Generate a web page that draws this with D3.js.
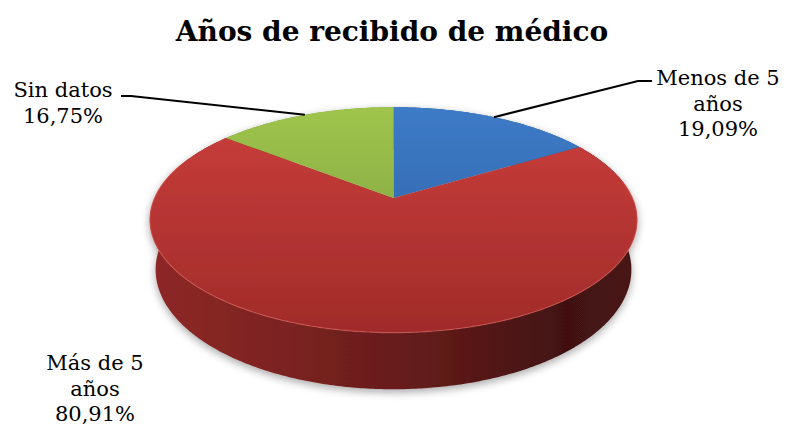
<!DOCTYPE html>
<html>
<head>
<meta charset="utf-8">
<script src="https://cdn.jsdelivr.net/npm/d3@7"></script>
<style>
    body { margin: 0; background: #fff; }
    text { font-family: "DejaVu Serif", serif; fill: #000; }
</style>
</head>
<body>
<svg width="787" height="428"></svg>
<script>
"use strict";

// data
var categories = ["Menos de 5 años", "Más de 5 años", "Sin datos"];
var values = [19.09, 80.91, 16.75];
var valueLabels = ["19,09%", "80,91%", "16,75%"];
var labelLines = [["Menos de 5", "años"], ["Más de 5", "años"], ["Sin datos"]];
var title = "Años de recibido de médico";

var topColors = [["#3d7bc8", "#2c5d9c"], ["#cb3f3c", "#a02b29"],
        ["#9fc54d", "#76983a"]];

// 3d projection of the pie disc
var view = {
    cx: 393.5, // px
    cy: 198, // px
    a: 239, // px
    u: 0.218,
    tilt: 27 * Math.PI / 180,
    height: 0.235
};
var sinT = Math.sin(view.tilt);
var cosT = Math.cos(view.tilt);

var project = function (theta, r, y) {
    var X = r * Math.sin(theta);
    var Z = r * Math.cos(theta);
    var yc = y * cosT + Z * sinT;
    var d = 1 + view.u * (Z * cosT - y * sinT);
    return [view.cx + view.a * X / d, view.cy - view.a * yc / d];
};

var svg = d3.select("svg");
var defs = svg.append("defs");

var shadow = defs.append("filter").attr("id", "shadow")
    .attr("x", "-10%").attr("y", "-10%")
    .attr("width", "120%").attr("height", "130%");
shadow.append("feGaussianBlur").attr("in", "SourceAlpha")
    .attr("stdDeviation", 4);
shadow.append("feOffset").attr("dy", 3).attr("result", "b");
shadow.append("feComponentTransfer").append("feFuncA")
    .attr("type", "linear").attr("slope", 0.35);
var merge = shadow.append("feMerge");
merge.append("feMergeNode");
merge.append("feMergeNode").attr("in", "SourceGraphic");

topColors.forEach(function (c, i) {
    var g = defs.append("linearGradient").attr("id", "top" + i)
        .attr("gradientUnits", "userSpaceOnUse")
        .attr("x1", 0).attr("x2", 0).attr("y1", 105).attr("y2", 335);
    g.append("stop").attr("offset", 0).attr("stop-color", c[0]);
    g.append("stop").attr("offset", 1).attr("stop-color", c[1]);
});

var side = defs.append("linearGradient").attr("id", "side")
    .attr("gradientUnits", "userSpaceOnUse")
    .attr("x1", 150).attr("x2", 640).attr("y1", 0).attr("y2", 0);
[[0, "#8e2826"], [0.3, "#7a2220"], [0.6, "#5e1a19"], [0.85, "#421111"],
        [1, "#4a1414"]].forEach(function (s) {
    side.append("stop").attr("offset", s[0]).attr("stop-color", s[1]);
});

var pie = d3.pie().sort(null).value(function (d) {
    return d;
});
var arcs = pie(values);

var line = d3.line();

var arcPoints = function (a0, a1, y) {
    var n = Math.max(2, Math.ceil((a1 - a0) / 0.01));
    return d3.range(n + 1).map(function (i) {
        return project(a0 + (a1 - a0) * i / n, 1, y);
    });
};

var chart = svg.append("g").attr("filter", "url(#shadow)");

// outer walls
arcs.forEach(function (d) {
    var topPts = arcPoints(d.startAngle, d.endAngle, 0);
    var botPts = arcPoints(d.startAngle, d.endAngle, -view.height).reverse();
    chart.append("path")
        .attr("d", line(topPts.concat(botPts)) + "Z")
        .attr("fill", d.index === 1 ? "url(#side)" : topColors[d.index][1]);
});

// top faces
arcs.forEach(function (d) {
    var pts = [project(0, 0, 0)].concat(
        arcPoints(d.startAngle, d.endAngle, 0)
    );
    chart.append("path")
        .attr("d", line(pts) + "Z")
        .attr("fill", "url(#top" + d.index + ")");
});

// rim highlight
chart.append("path")
    .attr("d", line(arcPoints(Math.PI * 0.45, Math.PI * 1.6, 0)))
    .attr("fill", "none")
    .attr("stroke", "#d9605c")
    .attr("stroke-opacity", 0.6)
    .attr("stroke-width", 1.2);

// title
svg.append("text")
    .attr("x", 392)
    .attr("y", 41)
    .attr("text-anchor", "middle")
    .attr("font-size", 28)
    .attr("font-weight", "bold")
    .text(title);

// data labels
var labelPos = [
    {x: 718, y: 85, leader: [[638, 81], [652, 81]]},
    {x: 95, y: 370, leader: null},
    {x: 63, y: 97, leader: [[131, 96], [121, 96]]}
];

arcs.forEach(function (d, i) {
    var pos = labelPos[i];
    var lines = labelLines[i].concat([valueLabels[i]]);
    var t = svg.append("text")
        .attr("text-anchor", "middle")
        .attr("font-size", 21);
    lines.forEach(function (s, j) {
        t.append("tspan")
            .attr("x", pos.x)
            .attr("y", pos.y + j * 25.5)
            .text(s);
    });
    if (pos.leader) {
        var mid = (d.startAngle + d.endAngle) / 2;
        svg.append("path")
            .attr("d", line([project(mid, 1, 0)].concat(pos.leader)))
            .attr("fill", "none")
            .attr("stroke", "#000")
            .attr("stroke-width", 2);
    }
});
</script>
</body>
</html>
